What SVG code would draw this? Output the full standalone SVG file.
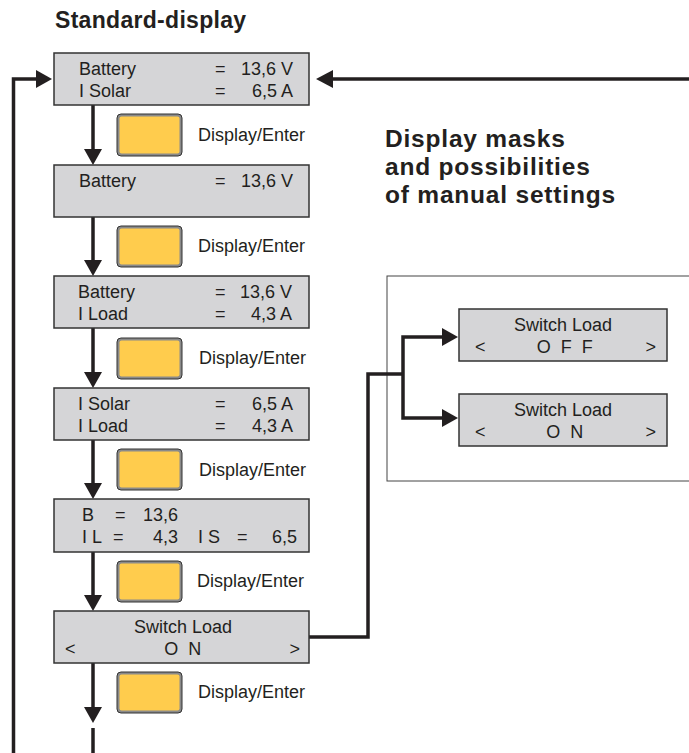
<svg xmlns="http://www.w3.org/2000/svg" width="689" height="753" viewBox="0 0 689 753">
<defs>
<marker id="ah" viewBox="0 0 16 18" refX="0" refY="9" markerWidth="16" markerHeight="18" markerUnits="userSpaceOnUse" orient="auto">
<path d="M0,0 L16,9 L0,18 z" fill="#231f20"/>
</marker>
<style>
text{font-family:"Liberation Sans",Arial,sans-serif;fill:#231f20;font-size:18px}
.h{font-weight:bold;font-size:24.5px;letter-spacing:0.8px}
.box{fill:#d5d5d7;stroke:#333;stroke-width:1.5}
.btnO{fill:#8a8a8a;stroke:#333;stroke-width:1}
.btnI{fill:#ffcc4d}
.c{fill:none;stroke:#231f20;stroke-width:3.5}
.m{text-anchor:middle}
.e{text-anchor:end}
.sp{letter-spacing:2.5px}
.frame{fill:none;stroke:#444;stroke-width:1}
</style>
</defs>
<g id="title-standard"><text x="55" y="28" class="h" style="font-size:23px;letter-spacing:0.3px">Standard-display</text></g>
<g id="title-masks">
<text x="385" y="147" class="h">Display masks</text>
<text x="385" y="175" class="h">and possibilities</text>
<text x="385" y="203" class="h">of manual settings</text>
</g>
<g id="frame"><rect x="387" y="276" width="320" height="205" class="frame"/></g>
<g id="connectors">
<path class="c" d="M93,105 V149" marker-end="url(#ah)"/>
<path class="c" d="M93,217 V260" marker-end="url(#ah)"/>
<path class="c" d="M93,328 V372" marker-end="url(#ah)"/>
<path class="c" d="M93,440 V483" marker-end="url(#ah)"/>
<path class="c" d="M93,552 V595" marker-end="url(#ah)"/>
<path class="c" d="M93,663 V707" marker-end="url(#ah)"/>
<path class="c" d="M93,728 V753"/>
<path class="c" d="M13.5,753 V79 H36" marker-end="url(#ah)"/>
<path class="c" d="M689,79 H333"/>
<path d="M333,70 L316,79 L333,88 z" fill="#231f20"/>
<path class="c" d="M309,637 H368 V374 H403"/>
<path class="c" d="M403,374 V337 H442" marker-end="url(#ah)"/>
<path class="c" d="M403,374 V418 H442" marker-end="url(#ah)"/>
</g>
<g id="box1"><rect x="54" y="53" width="255" height="52" class="box"/>
<text x="79" y="75">Battery</text><text x="215" y="75">=</text><text x="293" y="75" class="e">13,6 V</text>
<text x="79" y="97">I Solar</text><text x="215" y="97">=</text><text x="293" y="97" class="e">6,5 A</text></g>
<g id="btn1"><rect x="117" y="114" width="65" height="42" rx="4" class="btnO"/><rect x="119.5" y="116.5" width="60" height="37" rx="2" class="btnI"/><text x="198" y="141">Display/Enter</text></g>
<g id="box2"><rect x="54" y="165" width="255" height="52" class="box"/>
<text x="79" y="187">Battery</text><text x="215" y="187">=</text><text x="293" y="187" class="e">13,6 V</text></g>
<g id="btn2"><rect x="117" y="226" width="65" height="41" rx="4" class="btnO"/><rect x="119.5" y="228.5" width="60" height="36" rx="2" class="btnI"/><text x="198" y="252">Display/Enter</text></g>
<g id="box3"><rect x="54" y="276" width="255" height="52" class="box"/>
<text x="78" y="298">Battery</text><text x="215" y="298">=</text><text x="292" y="298" class="e">13,6 V</text>
<text x="78" y="320">I Load</text><text x="215" y="320">=</text><text x="292" y="320" class="e">4,3 A</text></g>
<g id="btn3"><rect x="117" y="338" width="65" height="41" rx="4" class="btnO"/><rect x="119.5" y="340.5" width="60" height="36" rx="2" class="btnI"/><text x="199" y="364">Display/Enter</text></g>
<g id="box4"><rect x="54" y="388" width="255" height="52" class="box"/>
<text x="78" y="410">I Solar</text><text x="215" y="410">=</text><text x="293" y="410" class="e">6,5 A</text>
<text x="78" y="432">I Load</text><text x="215" y="432">=</text><text x="293" y="432" class="e">4,3 A</text></g>
<g id="btn4"><rect x="117" y="449" width="65" height="41" rx="4" class="btnO"/><rect x="119.5" y="451.5" width="60" height="36" rx="2" class="btnI"/><text x="199" y="476">Display/Enter</text></g>
<g id="box5"><rect x="54" y="499" width="255" height="53" class="box"/>
<text x="82" y="521">B</text><text x="115" y="521">=</text><text x="178" y="521" class="e">13,6</text>
<text x="82" y="543">I L</text><text x="113" y="543">=</text><text x="178" y="543" class="e">4,3</text>
<text x="198" y="543">I S</text><text x="237" y="543">=</text><text x="297" y="543" class="e">6,5</text></g>
<g id="btn5"><rect x="117" y="561" width="65" height="41" rx="4" class="btnO"/><rect x="119.5" y="563.5" width="60" height="36" rx="2" class="btnI"/><text x="197" y="587">Display/Enter</text></g>
<g id="box6"><rect x="54" y="611" width="255" height="52" class="box"/>
<text x="183" y="633" class="m">Switch Load</text>
<text x="65" y="655">&lt;</text><text x="184" y="655" class="m sp">O N</text><text x="300" y="655" class="e">&gt;</text></g>
<g id="btn6"><rect x="117" y="672" width="65" height="41" rx="4" class="btnO"/><rect x="119.5" y="674.5" width="60" height="36" rx="2" class="btnI"/><text x="198" y="698">Display/Enter</text></g>
<g id="switch-off"><rect x="459" y="309" width="208" height="52" class="box"/>
<text x="563" y="331" class="m">Switch Load</text>
<text x="475" y="353">&lt;</text><text x="566" y="353" class="m sp">O F F</text><text x="656" y="353" class="e">&gt;</text></g>
<g id="switch-on"><rect x="459" y="394" width="208" height="52" class="box"/>
<text x="563" y="416" class="m">Switch Load</text>
<text x="475" y="438">&lt;</text><text x="566" y="438" class="m sp">O N</text><text x="656" y="438" class="e">&gt;</text></g>
</svg>
